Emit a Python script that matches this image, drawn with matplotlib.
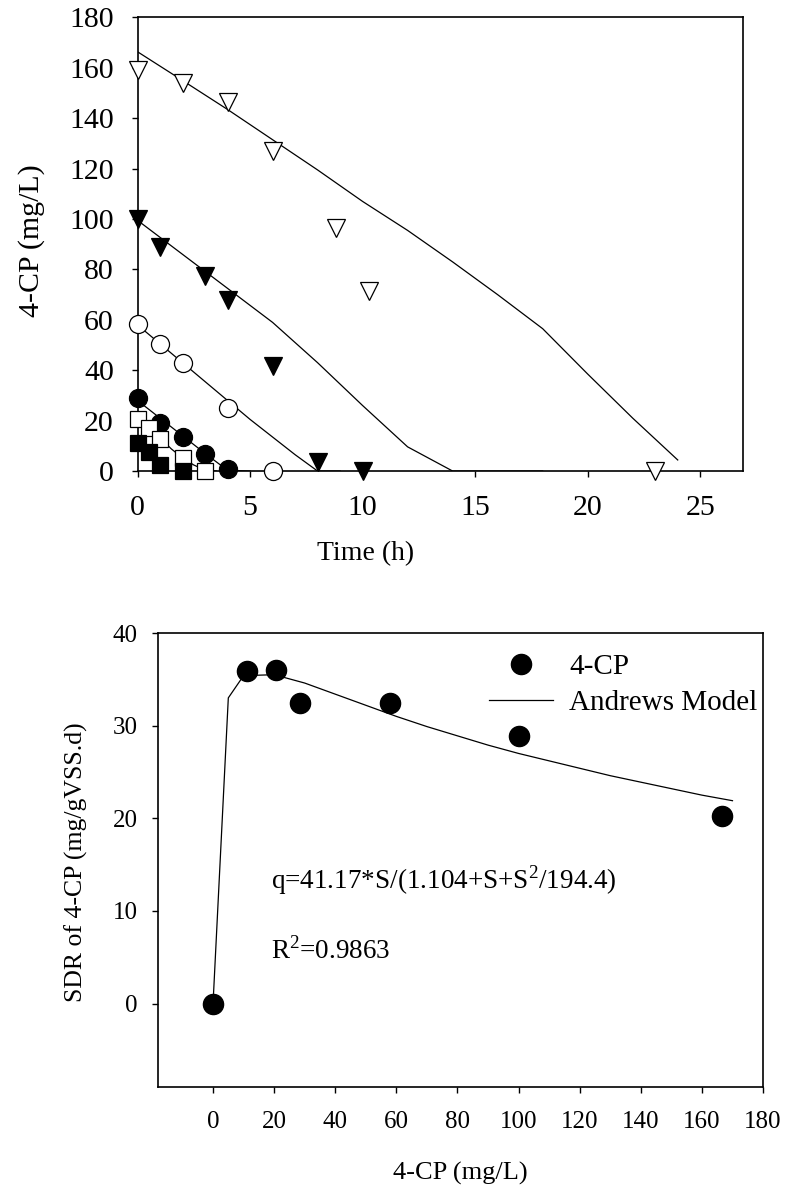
import matplotlib
matplotlib.use('Agg')
import matplotlib.pyplot as plt

plt.rcParams['font.family'] = ['Liberation Serif', 'DejaVu Serif']
plt.rcParams['mathtext.fontset'] = 'custom'
plt.rcParams['mathtext.rm'] = 'Liberation Serif'

# --- top panel: 4-CP decay at several initial concentrations ---
t_160 = [0, 2, 4, 6, 8.8, 10.3, 23]
c_160 = [159, 154, 146.5, 127, 96.5, 71.5, 0]
t_100 = [0, 1, 3, 4, 6, 8, 10]
c_100 = [100, 89, 77.5, 68, 41.5, 3.5, 0]
t_58 = [0, 1, 2, 4, 6]
c_58 = [58.3, 50.5, 42.8, 25, 0]
t_29 = [0, 1, 2, 3, 4]
c_29 = [28.8, 19.2, 13.6, 6.8, 1.0]
t_20 = [0, 0.5, 1, 2, 3]
c_20 = [20.6, 17.2, 12.6, 5.0, 0]
t_11 = [0, 0.5, 1, 2]
c_11 = [11.2, 7.7, 2.6, 0]

# model curves
tm_160 = [0, 2, 4, 6, 8, 10, 12, 14, 16, 18, 20, 22, 24]
cm_160 = [166.4, 155, 143.5, 131.5, 119.5, 107, 95.5, 83, 70, 56.5, 38.5, 21, 4.4]
tm_100 = [0, 2, 4, 6, 8, 10, 12, 14, 16, 18]
cm_100 = [99.5, 86, 72.5, 59, 43, 26, 9.6, 0, 0, 0]
tm_58 = [0, 1, 2, 3, 4, 5, 6, 7, 8, 9]
cm_58 = [58, 50.5, 43, 35.5, 28, 20.5, 13.5, 6.5, 0, 0]
tm_29 = [0, 1, 2, 3, 4, 5]
cm_29 = [28, 21, 14, 7, 0.3, 0]
tm_20 = [0, 0.5, 1, 1.5, 2, 2.5, 3, 3.5]
cm_20 = [20.5, 17, 13.2, 8.8, 5.2, 2.4, 0.4, 0]

# --- bottom panel: specific degradation rate ---
s_obs = [0, 11.1, 20.6, 28.6, 57.9, 100, 166.7]
q_obs = [0, 35.9, 36.0, 32.5, 32.5, 28.9, 20.3]
s_fit = [0, 5, 10, 20, 30, 40, 50, 60, 70, 80, 90, 100, 110, 120, 130, 140, 150, 160, 170]
q_fit = [0, 33.0, 35.4, 35.5, 34.6, 33.4, 32.2, 31.0, 29.9, 28.9, 27.9, 27.0, 26.2, 25.4,
         24.6, 23.9, 23.2, 22.5, 21.9]

fig = plt.figure(figsize=(7.89, 11.98), dpi=100)

# top axes
ax1 = fig.add_axes([0.1743, 0.6068, 0.7674, 0.3786])
line_kw = dict(color='black', linewidth=0.9, zorder=2)
for tm, cm in [(tm_160, cm_160), (tm_100, cm_100), (tm_58, cm_58), (tm_29, cm_29), (tm_20, cm_20)]:
    ax1.plot(tm, cm, **line_kw)

mk_kw = dict(linestyle='none', markeredgecolor='black', markeredgewidth=0.9, zorder=3, clip_on=False)
ax1.plot(t_160, c_160, marker='v', markersize=13.5, markerfacecolor='white', **mk_kw)
ax1.plot(t_100, c_100, marker='v', markersize=13.5, markerfacecolor='black', **mk_kw)
ax1.plot(t_58, c_58, marker='o', markersize=13, markerfacecolor='white', **mk_kw)
ax1.plot(t_29, c_29, marker='o', markersize=13, markerfacecolor='black', **mk_kw)
ax1.plot(t_20, c_20, marker='s', markersize=11, markerfacecolor='white', **mk_kw)
ax1.plot(t_11, c_11, marker='s', markersize=11, markerfacecolor='black', **mk_kw)

ax1.set_xlim(0, 26.9)
ax1.set_ylim(0, 180)
ax1.set_xticks([0, 5, 10, 15, 20, 25])
ax1.set_yticks(range(0, 181, 20))
ax1.tick_params(direction='out', length=4.5, width=1, labelsize=21.5)
ax1.tick_params(axis='x', pad=13)
ax1.tick_params(axis='y', pad=12.5)
for sp in ax1.spines.values():
    sp.set_linewidth(1.2)
ax1.set_xlabel('Time (h)', fontsize=20)
ax1.xaxis.set_label_coords(0.377, -0.155)
ax1.set_ylabel('4-CP (mg/L)', fontsize=21.5)
ax1.yaxis.set_label_coords(-0.152, 0.509)

# bottom axes
ax2 = fig.add_axes([0.2003, 0.0927, 0.7668, 0.3789])
ax2.plot(s_fit, q_fit, color='black', linewidth=0.9, label='Andrews Model', zorder=2)
ax2.plot(s_obs, q_obs, linestyle='none', marker='o', markersize=14.5, color='black',
         label='4-CP', zorder=3)
ax2.set_xlim(-18, 180)
ax2.set_ylim(-9, 40)
ax2.set_xticks(range(0, 181, 20))
ax2.set_yticks(range(0, 41, 10))
ax2.tick_params(direction='out', length=4.5, width=1, labelsize=18)
ax2.tick_params(axis='x', pad=13)
ax2.tick_params(axis='y', pad=10)
for sp in ax2.spines.values():
    sp.set_linewidth(1.2)
ax2.set_xlabel('4-CP (mg/L)', fontsize=19)
ax2.xaxis.set_label_coords(0.5, -0.165)
ax2.set_ylabel('SDR of 4-CP (mg/gVSS.d)', fontsize=18.5)
ax2.yaxis.set_label_coords(-0.116, 0.496)

handles, labels = ax2.get_legend_handles_labels()
ax2.legend(handles[::-1], labels[::-1], loc='upper right', bbox_to_anchor=(1.0, 0.968),
           frameon=False, fontsize=21, handlelength=2.2, handletextpad=0.55,
           labelspacing=0.35, borderpad=0.1, borderaxespad=0.1)

ax2.text(19.1, 13.3, 'q=41.17*S/(1.104+S+S$^{2}$/194.4)', fontsize=19.5, va='center', ha='left')
ax2.text(19.1, 5.7, 'R$^{2}$=0.9863', fontsize=19.5, va='center', ha='left')

fig.savefig('out.png', dpi=100)
